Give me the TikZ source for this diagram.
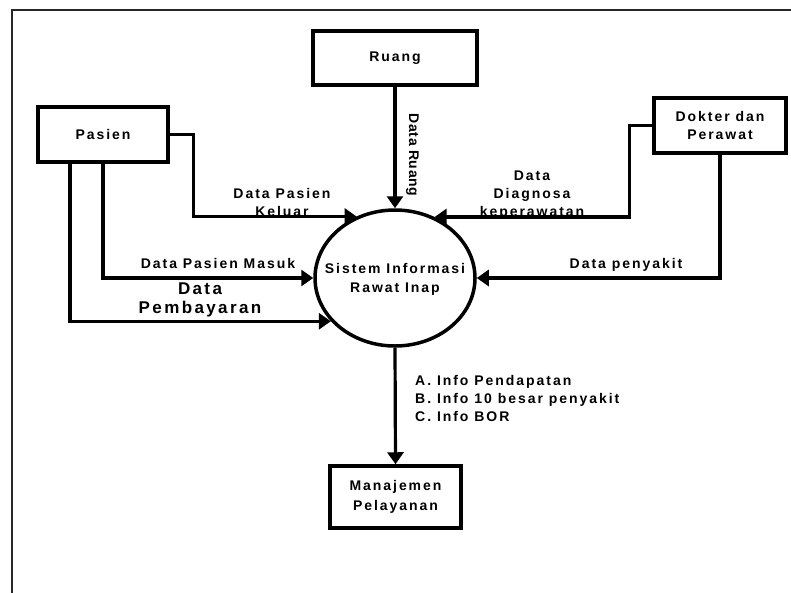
\documentclass[tikz,border=0pt]{standalone}
\usepackage{fontspec}
\setmainfont[LetterSpace=14]{Liberation Sans}
\newfontfamily\tightfont[LetterSpace=4]{Liberation Sans}
\usetikzlibrary{shapes.geometric,arrows.meta}
\tikzset{
  entity/.style={draw, line width=3.5pt, inner sep=0pt, align=center},
  flow/.style={line width=3.2pt, -{Triangle[length=12pt,width=16pt]}},
  lbl/.style={align=center, inner sep=0pt, font=\bfseries\fontsize{14}{18}\selectfont},
  biglbl/.style={align=center, inner sep=0pt, font=\bfseries\fontsize{17}{19.5}\selectfont}
}
\begin{document}
\begin{tikzpicture}[x=1pt, y=-1pt]
  \clip (0,0) rectangle (791,592);
  % outer frame (runs past the right and bottom edges)
  \draw[line width=1.8pt, black!85] (12,10) rectangle (820,620);

  % external entities
  \node[entity, minimum width=164pt, minimum height=54pt] (ruang) at (395,58) {};
  \node[entity, minimum width=130pt, minimum height=55pt] (pasien) at (103,134.5) {};
  \node[entity, minimum width=132pt, minimum height=55pt] (dokter) at (720,125.5) {};
  \node[entity, minimum width=131pt, minimum height=62pt] (manajemen) at (395.5,497) {};

  \node[lbl] at (ruang) {Ruang};
  \node[lbl] at (pasien) {Pasien};
  \node[lbl] at (dokter) {Dokter dan\\Perawat};
  \node[lbl, font=\bfseries\fontsize{14}{20}\selectfont] at (manajemen) {Manajemen\\Pelayanan};

  % process
  \node[draw, ellipse, line width=3.5pt, minimum width=160pt, minimum height=136pt, inner sep=0pt] (sis) at (395,278) {};
  \node[lbl, font=\bfseries\fontsize{14}{19}\selectfont] at (395,279) {Sistem Informasi\\Rawat Inap};

  % data flows
  \draw[flow] (ruang.south) -- (sis.north);
  \draw[flow] (pasien.east) -- ++(24,0) |- (sis.122.1);
  \draw[flow] (pasien.south) |- (sis.180);
  \draw[flow] ([xshift=-33pt]pasien.south) |- (sis.214.7);
  \draw[flow] (dokter.west) -- ++(-23,0) |- (sis.57.9);
  \draw[flow] (dokter.south) |- (sis.0);
  \draw[flow] (sis.south) -- (manajemen.north);

  % flow labels
  \node[lbl, rotate=-90, font=\tightfont\bfseries\fontsize{14}{18}\selectfont] at (412.5,155) {Data Ruang};
  \node[lbl] at (282,202) {Data Pasien\\Keluar};
  \node[lbl] at (218,263) {Data Pasien Masuk};
  \node[biglbl] at (200,300) {Data\\Pembayaran};
  \node[lbl] at (532,195) {Data\\Diagnosa\\keperawatan};
  \node[lbl] at (626,265) {Data penyakit};
  \node[lbl, align=left, anchor=west] at (415,398) {A. Info Pendapatan\\B. Info 10 besar penyakit\\C. Info BOR};
\end{tikzpicture}
\end{document}
